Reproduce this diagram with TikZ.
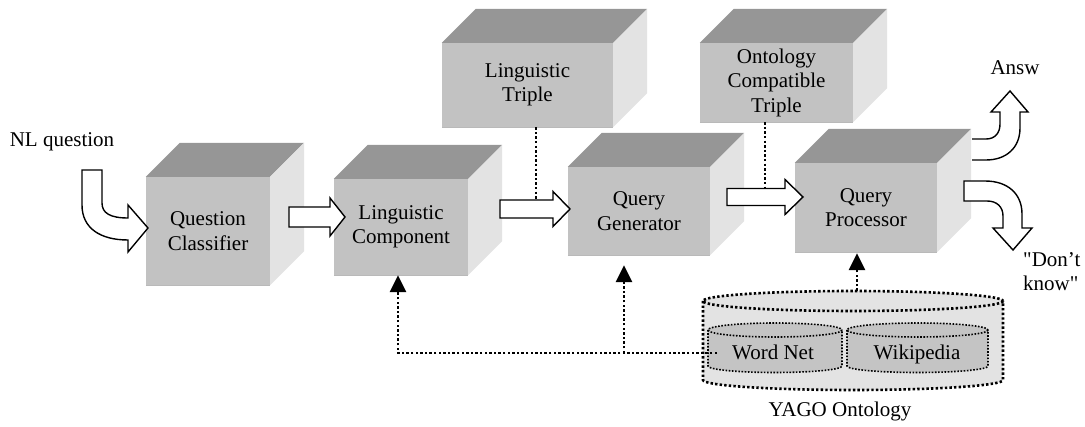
\documentclass[tikz,border=0pt]{standalone}
\usepackage{fontspec}
\setmainfont{Liberation Serif}[Ligatures=TeXOff]
\usetikzlibrary{arrows.meta,calc}
\definecolor{frontgray}{gray}{0.76}
\definecolor{topgray}{gray}{0.59}
\definecolor{sidegray}{gray}{0.89}
\definecolor{cylout}{gray}{0.89}
\definecolor{cylin}{gray}{0.77}
\newcommand\cubebox[6]{%
  \node[front, minimum width=#4pt, minimum height=#5pt] (#1) at (#2,#3) {#6};
  \fill[topface] (#1.north west) -- ++(34,-34) -- ([shift={(34,-34)}]#1.north east) -- (#1.north east) -- cycle;
  \fill[sideface] (#1.north east) -- ++(34,-34) -- ([shift={(34,-34)}]#1.south east) -- (#1.south east) -- cycle;
  \draw[line width=0.8pt, gray!55] (#1.south west) -- (#1.south east);
}
% straight block arrow: start x, head base x, tip x, centre y, shaft half, head half
\newcommand\blockarrowpath[6]{%
  \draw[blockarrow] (#1,#4-#5) -- (#2,#4-#5) -- (#2,#4-#6) -- (#3,#4) -- (#2,#4+#6) -- (#2,#4+#5) -- (#1,#4+#5) -- cycle;
}
\begin{document}
\begin{tikzpicture}[x=1pt,y=-1pt,
  every node/.style={font=\fontsize{21}{24.5}\selectfont},
  front/.style={fill=frontgray, inner sep=0pt, align=center},
  topface/.style={fill=topgray},
  sideface/.style={fill=sidegray},
  blockarrow/.style={draw=black, fill=white, line width=1.4pt, line join=miter},
  dots/.style={line width=2.6pt, dash pattern=on 2.4pt off 2.2pt},
  thindots/.style={line width=1.6pt, dash pattern=on 1.6pt off 1.6pt},
  tipped/.style={-{Triangle[width=16pt,length=17pt]}},
  label/.style={inner sep=0pt, anchor=base}
]
\useasboundingbox (0,0) rectangle (1085,427);

% boxes
\cubebox{qc}{208}{231}{124}{108}{Question\\Classifier}
\cubebox{lc}{401}{227}{134}{96}{Linguistic\\Component}
\cubebox{lt}{527.5}{85}{171}{84}{Linguistic\\Triple}
\cubebox{qg}{639}{211}{142}{88}{Query\\Generator}
\cubebox{oct}{776.5}{82.5}{153}{79}{Ontology\\Compatible\\Triple}
\cubebox{qp}{866}{207.5}{142}{89}{Query\\Processor}

% YAGO cylinder
\node[minimum width=300pt, minimum height=98pt, inner sep=0pt] (yago) at (853,340) {};
\fill[cylout] (703,301) rectangle (1003,380);
\fill[cylout] (853,380) ellipse [x radius=150, y radius=10];
\fill[cylout] (853,301) ellipse [x radius=150, y radius=10];
\draw[dots] (853,301) ellipse [x radius=150, y radius=10];
\draw[dots] (703,301) -- (703,380) arc[start angle=180, end angle=0, x radius=150, y radius=10] -- (1003,301);

% inner cylinders
\foreach \cx/\rx in {775/67, 917.5/70.5}{
  \fill[cylin] (\cx-\rx,330) rectangle (\cx+\rx,366);
  \fill[cylin] (\cx,366) ellipse [x radius=\rx, y radius=6.5];
  \fill[cylin] (\cx,330) ellipse [x radius=\rx, y radius=7];
  \draw[thindots] (\cx,330) ellipse [x radius=\rx, y radius=7];
  \draw[thindots] (\cx-\rx,330) -- (\cx-\rx,366) arc[start angle=180, end angle=0, x radius=\rx, y radius=6.5] -- (\cx+\rx,330);
}
\node[label] (wn) at (773,360) {Word Net};
\node[label] (wp) at (917,360) {Wikipedia};
\node[label] (yagolabel) at (840,417) {YAGO Ontology};

% other texts
\node[label] (nlq) at (62,147) {NL question};
\node[label] (answ) at (1015,75) {Answ};
\node[inner sep=0pt, anchor=base west, align=left] (dk) at (1023,291) {"Don’t\\know"};

% dotted connectors
\coordinate (wnl) at (717,353);
\coordinate (br) at ([xshift=-15]qg.south |- wnl);
\draw[dots, tipped] (wnl) -- ([xshift=-3]lc.south |- wnl) -- ([xshift=-3]lc.south);
\draw[dots, tipped] (br) -- ([shift={(-15,10)}]qg.south);
\draw[dots, tipped] ([xshift=4]yago.north) -- ([shift={(-9,1)}]qp.south);
\draw[dots] ([xshift=8.5]lt.south) -- ([xshift=8.5]lt.south |- 0,199);
\draw[dots] ([xshift=-11.5]oct.south) -- ([xshift=-11.5]oct.south |- 0,188);

% straight block arrows
\blockarrowpath{289}{330}{345}{217}{10}{19}
\blockarrowpath{500}{553}{570}{209}{9}{17.5}
\blockarrowpath{727}{785}{803}{197}{8.5}{17.5}

% NL question arrow
\draw[blockarrow] (82,170) -- (102,170) -- (102,203) .. controls (102,213) and (110,218) .. (128,218)
  -- (128,205) -- (148,228) -- (128,252) -- (128,240) .. controls (100,240) and (82,228) .. (82,205) -- cycle;

% Answer arrow (open at the box)
\fill[white] (972,139) -- (986,139) .. controls (995,139) and (1000,133) .. (1000,124) -- (1000,112) -- (991,112) -- (1010,91) -- (1028,112) -- (1020,112) -- (1020,128) .. controls (1020,148) and (1006,160) .. (986,160) -- (972,160) -- cycle;
\draw[blockarrow, fill=none] (972,139) -- (986,139) .. controls (995,139) and (1000,133) .. (1000,124) -- (1000,112) -- (991,112) -- (1010,91) -- (1028,112) -- (1020,112) -- (1020,128) .. controls (1020,148) and (1006,160) .. (986,160) -- (972,160);

% Don't know arrow
\draw[blockarrow] (964,181) -- (985,181) .. controls (1008,181) and (1022,194) .. (1022,214) -- (1022,228) -- (1032,228) -- (1013,250) -- (993,228) -- (1003,228) -- (1003,216) .. controls (1003,207) and (997,201) .. (987,201) -- (964,201) -- cycle;
\end{tikzpicture}
\end{document}
